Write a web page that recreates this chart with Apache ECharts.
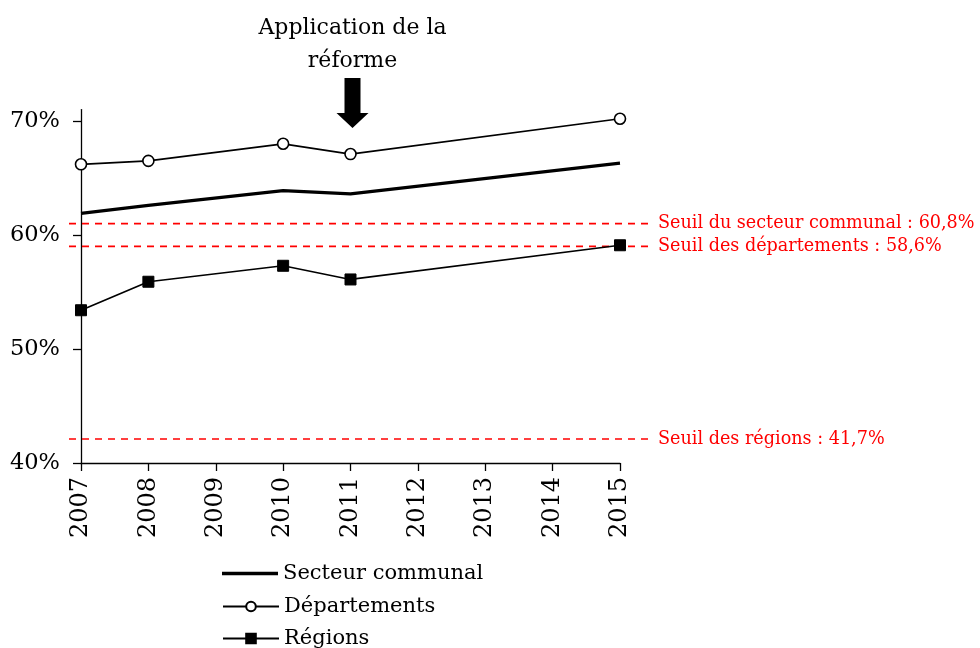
<!DOCTYPE html>
<html><head><meta charset="utf-8">
<script src="https://cdn.jsdelivr.net/npm/echarts@6/dist/echarts.min.js"></script>
<style>html,body{margin:0;padding:0;background:#fff}#c{width:980px;height:648px}</style>
</head><body><div id="c"></div>
<script>
// ---- data ----
var years = [2007, 2008, 2010, 2011, 2015];
var secteurCommunal = [61.9, 62.6, 63.9, 63.6, 66.3];
var departements = [66.2, 66.5, 68.0, 67.1, 70.2];
var regions = [53.4, 55.9, 57.3, 56.1, 59.1];
var seriesNames = ['Secteur communal', 'Départements', 'Régions'];
var yTicks = [40, 50, 60, 70];
var thresholdLevels = [61.0, 59.0, 42.1];
var thresholdLabels = ['Seuil du secteur communal : 60,8%', 'Seuil des départements : 58,6%', 'Seuil des régions : 41,7%'];
var thresholdSpan = [2006.82, 2015.45];
var reformYear = 2011;
var reformText = 'Application de la\nréforme';

var FONT = 'DejaVu Serif';
function pairs(xs, ys) { return xs.map(function (x, i) { return [x, ys[i]]; }); }

var chart = echarts.init(document.getElementById('c'), null, {renderer: 'canvas'});
var series = [
  {name: seriesNames[0], type: 'line', data: pairs(years, secteurCommunal), symbol: 'none',
   lineStyle: {color: '#000', width: 3.2}, itemStyle: {color: '#000'}, z: 5},
  {name: seriesNames[1], type: 'line', data: pairs(years, departements), symbol: 'circle', symbolSize: 11,
   lineStyle: {color: '#000', width: 1.7}, itemStyle: {color: '#fff', borderColor: '#000', borderWidth: 1.6}, z: 5},
  {name: seriesNames[2], type: 'line', data: pairs(years, regions), symbol: 'rect', symbolSize: 11,
   lineStyle: {color: '#000', width: 1.7}, itemStyle: {color: '#000', borderColor: '#000', borderWidth: 1}, z: 6}
];
thresholdLevels.forEach(function (v, i) {
  series.push({
    type: 'line', xAxisIndex: 1, yAxisIndex: 1,
    data: [[thresholdSpan[0], v], [thresholdSpan[1], v]], symbol: 'none', clip: false, silent: true,
    lineStyle: {color: '#ff0000', width: 1.6, type: [7, 6]}, z: 3,
    endLabel: {show: true, formatter: thresholdLabels[i], color: '#ff0000', fontFamily: FONT, fontSize: 17.6, distance: 8}
  });
});

var legendTops = [563, 596, 628];
var legends = seriesNames.map(function (n, i) {
  var l = {data: [n], orient: 'vertical', left: 222, top: legendTops[i], padding: 0,
    itemWidth: 56, itemHeight: i === 0 ? 3.5 : 12,
    textStyle: {color: '#000', fontFamily: FONT, fontSize: 21}, selectedMode: false};
  if (i === 0) { l.data = [{name: n, icon: 'rect'}]; }
  return l;
});

chart.setOption({
  animation: false,
  backgroundColor: '#fff',
  grid: [
    {left: 81, right: 360, top: 109.6, bottom: 185, containLabel: false},
    {left: 69, right: 330, top: 109.6, bottom: 185, containLabel: false}
  ],
  xAxis: [{type: 'value', gridIndex: 0, min: 2007, max: 2015, interval: 1,
    axisLine: {show: true, lineStyle: {color: '#000', width: 1.3}},
    axisTick: {show: true, length: 8, lineStyle: {color: '#000', width: 1.3}},
    splitLine: {show: false},
    axisLabel: {rotate: 90, margin: 14, color: '#000', fontFamily: FONT, fontSize: 24,
      formatter: function (v) { return String(v); }}
  }, {type: 'value', gridIndex: 1, min: thresholdSpan[0], max: thresholdSpan[1], show: false}],
  yAxis: [{type: 'value', gridIndex: 0, min: 40, max: 71, interval: 10,
    axisLine: {show: true, lineStyle: {color: '#000', width: 1.3}},
    axisTick: {show: true, length: 8, customValues: yTicks, lineStyle: {color: '#000', width: 1.3}},
    splitLine: {show: false},
    axisLabel: {customValues: yTicks, margin: 21, color: '#000', fontFamily: FONT, fontSize: 22.5,
      formatter: function (v) { return v + '%'; }}
  }, {type: 'value', gridIndex: 1, min: 40, max: 71, show: false}],
  legend: legends,
  series: series
});

// annotation arrow and text, positioned through the axis scale
var px = chart.convertToPixel({gridIndex: 0}, [reformYear, 70])[0] + 2;
chart.setOption({graphic: [
  {type: 'text', left: px - 110, top: 12, style: {text: reformText, width: 220, align: 'center', x: 110,
    fill: '#000', font: '22px "' + FONT + '"', lineHeight: 33, textAlign: 'center'}},
  {type: 'polygon', shape: {points: [[px - 8, 78], [px + 8, 78], [px + 8, 113], [px + 16, 113], [px, 128], [px - 16, 113], [px - 8, 113]]},
    style: {fill: '#000'}}
]});
</script></body></html>
